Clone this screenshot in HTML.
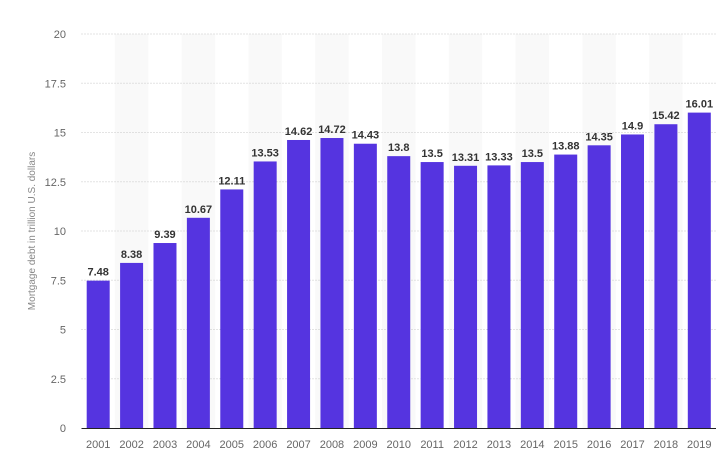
<!DOCTYPE html>
<html><head><meta charset="utf-8"><style>
body{margin:0;background:#fff;font-family:"Liberation Sans",sans-serif}
</style></head><body>
<svg id="chart" width="727" height="459" xmlns="http://www.w3.org/2000/svg"></svg>
<script>
const categories=["2001","2002","2003","2004","2005","2006","2007","2008","2009","2010","2011","2012","2013","2014","2015","2016","2017","2018","2019"];
const values=[7.48,8.38,9.39,10.67,12.11,13.53,14.62,14.72,14.43,13.8,13.5,13.31,13.33,13.5,13.88,14.35,14.9,15.42,16.01];
const yTicks=[0,2.5,5,7.5,10,12.5,15,17.5,20];
const yTickLabels=["0","2.5","5","7.5","10","12.5","15","17.5","20"];
const NS="http://www.w3.org/2000/svg";
const svg=document.getElementById('chart');
const x0=81.5,x1=716,y0=428,yTop=34,yMax=20;
const step=(x1-x0)/categories.length;
const y=v=>y0-(v/yMax)*(y0-yTop);
const xc=i=>x0+step*(i+0.5);
function mk(t,a){const e=document.createElementNS(NS,t);for(const k in a)e.setAttribute(k,a[k]);svg.appendChild(e);return e;}
categories.forEach((c,i)=>{if(i%2===1){const r=mk('rect',{x:x0+step*i,y:yTop,width:step,height:y0-yTop,fill:'#f9f9f9'});

}});
yTicks.forEach((t,i)=>{
 if(t>0){const l=mk('line',{x1:x0,x2:x1,y1:y(t),y2:y(t),stroke:'#c8c8c8','stroke-dasharray':'1,2'});
 
 }
 const tx=mk('text',{x:66,y:y(t)+4,'text-anchor':'end','font-size':11,fill:'#666'});tx.textContent=yTickLabels[i];
 
 
});
categories.forEach((c,i)=>{
 const bw=23;
 const b=mk('rect',{x:xc(i)-bw/2,y:y(values[i]),width:bw,height:y0-y(values[i]),fill:'#5534e0'});
 
 
 const v=mk('text',{x:xc(i),y:y(values[i])-5,'text-anchor':'middle','font-size':11,'font-weight':'bold',fill:'#333'});v.textContent=values[i];
 
 
 const l=mk('text',{x:xc(i),y:448,'text-anchor':'middle','font-size':11,fill:'#666'});l.textContent=c;
 
 
});
const ax=mk('line',{x1:x0,x2:x1,y1:y0+0.5,y2:y0+0.5,stroke:'#222','stroke-width':1});


const yt=mk('text',{x:0,y:0,'text-anchor':'middle','font-size':10,fill:'#888',transform:'translate(35,231) rotate(-90)'});yt.textContent='Mortgage debt in trillion U.S. dollars';


</script>
</body></html>
